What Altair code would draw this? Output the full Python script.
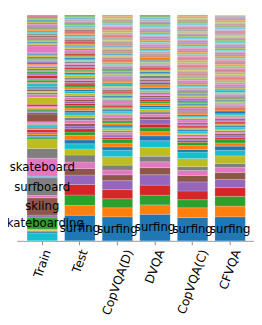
import altair as alt
import pandas as pd

bars = ["Train", "Test", "CopVQA(D)", "DVQA", "CopVQA(C)", "CFVQA"]
tab10 = ["#1f77b4", "#ff7f0e", "#2ca02c", "#d62728", "#9467bd",
         "#8c564b", "#e377c2", "#7f7f7f", "#bcbd22", "#17becf"]

train_sizes = [8.0, 1.2, 1.4, 1.4, 11.7, 0.8, 1.9, 17.7, 2.3, 18.3,
               1.6, 18.4, 10.0, 9.3, 1.5, 1.5, 1.5, 1.0, 1.5, 3.0,
               1.0, 1.5, 1.5, 1.5, 1.2, 1.3, 8.0, 1.5, 1.5, 1.2,
               1.3, 1.2, 1.6, 1.7, 7.0, 3.0, 2.0, 1.5, 1.5, 1.5,
               1.5, 3.0, 1.5, 1.5, 1.2, 1.5, 2.7, 1.5, 1.2, 1.3,
               1.2, 1.5, 1.3, 1.2, 1.4, 1.1, 1.2, 1.3, 1.2, 1.1,
               1.2, 1.3, 1.1, 1.2, 1.1, 1.0, 7.0,
               1.2, 1.1, 1.0, 1.2, 1.1, 1.3, 1.0, 1.1, 1.2, 1.0,
               1.1, 1.2, 1.1, 1.0, 1.3, 1.1, 1.0, 1.2, 1.1, 1.0,
               1.2, 1.1, 1.3, 1.0, 1.1, 1.2, 1.1, 1.1]
train_colors = [9, 0, 1, 8, 2, 3, 4, 5, 6, 7,
                9, 6, 7, 8, 2, 9, 0, 1, 4, 3,
                6, 5, 9, 4, 8, 6, 5, 0, 4, 2,
                9, 1, 6, 3, 8, 6, 7, 8, 5, 0,
                4, 9, 1, 0, 2, 4, 3, 4, 7, 2,
                9, 5, 8, 0, 6, 1, 3, 4, 9, 7,
                2, 5, 8, 6, 0, 4, 6,
                7, 8, 9, 0, 1, 2, 3, 4, 5, 6,
                7, 8, 9, 0, 1, 2, 3, 4, 5, 6,
                7, 8, 9, 0, 1, 2, 3, 4]

test_sizes = [26.3, 10.0, 10.7, 10.7, 9.7, 6.7, 6.7, 7.0, 6.3, 5.3, 4.0, 4.7, 3.3, 3.3,
              2.8, 2.5, 3.5, 2.8, 2.6, 2.4, 2.3, 2.5,
              2.3, 2.2, 2.2, 2.1, 2.1, 2.0, 2.0, 2.0, 1.9, 1.9,
              1.9, 1.8, 1.8, 1.8, 1.7, 1.7, 1.7, 1.7, 1.6, 1.6,
              1.6, 1.6, 1.5, 1.5, 1.5, 1.5, 1.4, 1.4, 1.4, 1.4,
              1.3, 1.3, 1.3, 1.3, 1.3, 1.2, 1.2, 1.2, 1.2, 1.2,
              1.1, 1.1, 1.1, 1.1, 1.1, 1.1, 1.0, 1.0, 1.0, 1.0,
              1.0, 1.0, 1.0, 0.9, 0.9, 0.9, 0.9, 0.9, 0.9, 0.9,
              0.9, 0.8, 0.8, 0.8, 0.8, 0.8, 0.8, 0.8, 0.8, 0.8, 0.8, 0.8]

copd_sizes = [24.7, 9.3, 9.3, 9.3, 9.3, 6.0, 5.0, 5.0, 8.7, 6.7, 3.3, 4.0, 4.0,
              1.7, 1.8, 1.5, 2.0, 1.6, 2.2, 1.8, 1.9, 1.7, 1.6, 1.5,
              1.6, 1.5, 1.7, 1.4, 1.5, 1.6, 1.4, 1.5, 1.3, 1.4,
              1.4, 1.3, 2.6, 1.3, 1.2, 1.4, 1.3, 1.2, 1.3, 1.2,
              1.2, 1.3, 1.1, 1.2, 1.2, 2.5, 1.1, 1.2, 1.1, 1.2,
              1.1, 1.1, 1.0, 1.1, 1.0, 1.1, 1.0, 1.0, 1.1, 1.0,
              1.0, 1.0, 0.9, 1.0, 0.9, 1.0, 0.9, 0.9, 1.0, 0.9,
              0.9, 0.9, 0.9, 0.8, 0.9, 0.8, 0.9, 0.8, 0.8, 0.9,
              0.8, 0.8, 0.8, 0.8, 0.8, 0.8, 0.8, 0.8, 0.8, 0.8,
              0.8, 0.8, 0.8, 0.8, 0.8, 0.8, 0.8, 0.8, 0.8, 0.8,
              0.8, 0.8, 0.8, 0.8, 0.8, 0.8, 0.8, 0.8, 0.8, 0.8,
              0.7, 0.7, 0.7, 0.7, 0.7, 0.7, 0.7, 0.7, 0.7, 0.7,
              0.7, 0.7, 0.7, 0.7, 0.7, 0.7, 0.7, 0.7, 0.7]

dvqa_sizes = [27.3, 9.7, 10.0, 10.3, 10.7, 7.3, 6.0, 5.7, 9.3, 6.7, 5.0, 4.3, 4.0,
              3.7, 5.0, 2.5, 2.8, 2.2, 2.6, 2.0, 2.2, 2.4, 2.0, 1.9,
              1.9, 1.8, 1.8, 1.7, 1.8, 1.6, 1.7, 1.6, 1.5, 1.6,
              1.5, 1.5, 1.4, 3.0, 1.4, 1.3, 1.4, 1.3, 1.3, 1.2,
              1.2, 1.2, 1.1, 1.2, 1.1, 1.1, 1.0, 2.8, 1.0, 1.0,
              1.0, 1.0, 0.9, 1.0, 0.9, 0.9, 0.9, 0.9, 0.9, 0.9,
              0.9, 0.8, 0.8, 0.8, 0.8, 0.8, 0.8, 0.8, 0.8, 0.8,
              0.8, 0.8, 0.8, 0.8, 0.8, 0.8, 0.8, 0.8, 0.8, 0.8,
              0.8, 0.8, 0.8, 0.8, 0.8, 0.8, 0.8, 0.8, 0.8, 0.8,
              0.8, 0.8, 0.8, 0.8, 0.8, 0.8, 0.8, 0.8, 0.8, 0.8]

copc_sizes = [24.0, 10.0, 8.3, 9.0, 9.3, 6.7, 5.0, 4.0, 8.3, 6.7, 2.7, 4.0, 3.3,
              1.6, 1.8, 1.5, 1.7, 1.4, 1.6, 1.8, 1.5, 1.6, 1.4,
              1.5, 1.4, 1.3, 3.0, 1.4, 1.3, 1.2, 1.3, 1.2, 1.2,
              1.2, 1.1, 1.2, 1.1, 1.1, 1.0, 1.1, 1.0, 1.1, 1.0,
              1.0, 1.0, 1.0, 1.0, 1.0, 1.0, 1.0, 1.0, 1.0, 1.0,
              1.0, 0.9, 0.9, 0.9, 0.9, 0.9, 0.9, 0.9, 0.9, 0.9,
              0.9, 0.9, 0.9, 0.9, 0.9, 0.9, 0.9, 0.9, 0.9, 0.9,
              0.8, 0.8, 0.8, 0.8, 0.8, 0.8, 0.8, 0.8, 0.8, 0.8,
              0.8, 0.8, 0.8, 0.8, 0.8, 0.8, 0.8, 0.8, 0.8, 0.8,
              0.8, 0.8, 0.8, 0.8, 0.8, 0.8, 0.8, 0.8, 0.8, 0.8,
              0.8, 0.8, 0.8, 0.8, 0.8, 0.8, 0.8, 0.8, 0.8, 0.8,
              0.8, 0.8, 0.8, 0.8, 0.8, 0.8, 0.8, 0.8, 0.8, 0.8,
              0.7, 0.7, 0.7, 0.7, 0.7, 0.7, 0.7, 0.7, 0.7, 0.7,
              0.7, 0.7, 0.7, 0.7, 0.7, 0.7, 0.7, 0.7, 0.7, 0.7,
              0.7, 0.7, 0.7, 0.7, 0.7, 0.7, 0.7, 0.7, 0.7, 0.7]

cfvqa_sizes = [24.7, 11.0, 10.0, 9.0, 8.3, 7.3, 5.0, 4.3, 7.7, 5.7, 4.3, 3.3, 4.0,
               1.8, 1.6, 2.0, 1.7, 1.5, 1.8, 1.6, 1.5, 1.7, 1.4,
               1.5, 1.4, 1.3, 1.4, 1.3, 1.2, 1.3, 2.8, 1.2, 1.2,
               1.2, 1.1, 1.1, 1.2, 1.0, 1.1, 1.0, 1.1, 1.0, 1.0,
               1.0, 1.0, 1.0, 0.9, 1.0, 0.9, 2.5, 0.9, 0.9, 0.9,
               0.9, 0.9, 0.9, 0.9, 0.9, 0.9, 0.9, 0.9, 0.9, 0.9,
               0.8, 0.8, 0.8, 0.8, 0.8, 0.8, 0.8, 0.8, 0.8, 0.8,
               0.8, 0.8, 0.8, 0.8, 0.8, 0.8, 0.8, 0.8, 0.8, 0.8,
               0.8, 0.8, 0.8, 0.8, 0.8, 0.8, 0.8, 0.8, 0.8, 0.8,
               0.8, 0.8, 0.8, 0.8, 0.8, 0.8, 0.8, 0.8, 0.8, 0.8,
               0.8, 0.8, 0.8, 0.8, 0.8, 0.8, 0.8, 0.8, 0.8, 0.8,
               0.7, 0.7, 0.7, 0.7, 0.7, 0.7, 0.7, 0.7, 0.7, 0.7,
               0.7, 0.7, 0.7, 0.7, 0.7, 0.7, 0.7, 0.7, 0.7, 0.7,
               0.7, 0.7, 0.7, 0.7, 0.7, 0.7, 0.7, 0.7, 0.7, 0.7,
               0.7, 0.7, 0.7, 0.7, 0.7, 0.7]

sizes = {"Train": train_sizes, "Test": test_sizes, "CopVQA(D)": copd_sizes,
         "DVQA": dvqa_sizes, "CopVQA(C)": copc_sizes, "CFVQA": cfvqa_sizes}
labels = {"Train": {4: "skateboarding", 7: "skiing", 9: "surfboard", 11: "skateboard"},
          "Test": {0: "surfing"}, "CopVQA(D)": {0: "surfing"}, "DVQA": {0: "surfing"},
          "CopVQA(C)": {0: "surfing"}, "CFVQA": {0: "surfing"}}
label_shift = {"Train": 5.4, "Test": 4.6, "CopVQA(D)": 12.4, "DVQA": 6.2,
               "CopVQA(C)": 12.2, "CFVQA": 7.3}

rows = []
for b in bars:
    s = sizes[b]
    cols = train_colors if b == "Train" else [i % 10 for i in range(len(s))]
    for i, v in enumerate(s):
        rows.append({"bar": b, "order": i, "value": v, "c": cols[i],
                     "label": labels[b].get(i, "")})
df = pd.DataFrame(rows)

xaxis = alt.Axis(
    title=None, labelAngle=-70, labelFont="DejaVu Sans", labelFontSize=12.5,
    labelColor="black", labelPadding=5, tickSize=4, tickColor="#888888",
    domainColor="#999999", grid=False,
    labelOffset={"condition": [{"test": f"datum.value == '{b}'", "value": label_shift[b]}
                               for b in bars], "value": 0},
)
xenc = alt.X("bar:N", sort=bars, axis=xaxis,
             scale=alt.Scale(paddingInner=0.19, paddingOuter=0.252, align=0.544))

base = alt.Chart(df).transform_stack(
    stack="value", groupby=["bar"], as_=["y0", "y1"],
    sort=[alt.SortField("order", order="ascending")], offset="normalize"
).transform_calculate(ymid="(datum.y0 + datum.y1) / 2")

bars_layer = base.mark_bar(stroke="white", strokeWidth=0.25, strokeOpacity=0.7).encode(
    x=xenc,
    y=alt.Y("y0:Q", scale=alt.Scale(domain=[0, 1], nice=False), axis=None),
    y2="y1:Q",
    color=alt.Color("c:N", scale=alt.Scale(domain=list(range(10)), range=tab10), legend=None),
)

text_layer = base.transform_filter("datum.label != ''").mark_text(
    font="DejaVu Sans", fontSize=12, color="black", align="center", baseline="middle"
).encode(
    x=xenc,
    y=alt.Y("ymid:Q", scale=alt.Scale(domain=[0, 1], nice=False), axis=None),
    text="label:N",
)

chart = alt.layer(bars_layer, text_layer).properties(
    width=244, height=232,
    padding={"left": 9, "top": 3, "right": 0, "bottom": 80},
    autosize="none",
).configure_view(stroke=None)

chart.save("out.html", embed_options={"renderer": "svg", "actions": False})
